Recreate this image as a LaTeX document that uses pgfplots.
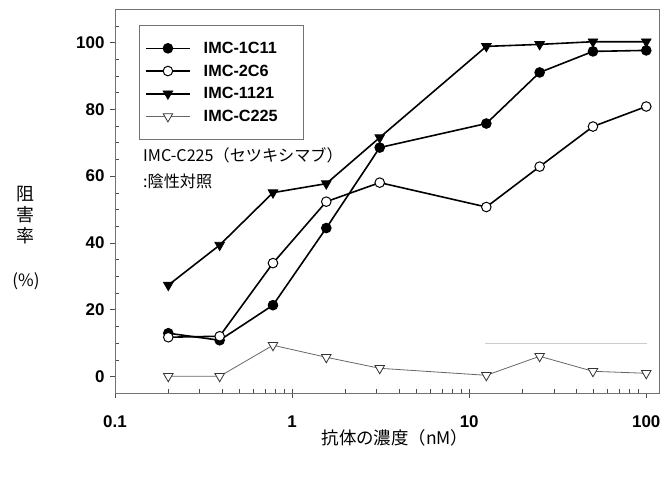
\documentclass[border=0pt]{standalone}
\usepackage{pgfplots}
\pgfplotsset{compat=1.18}
\usepackage{fontspec}
\setmainfont{Liberation Sans}
\newfontfamily\jp{Noto Sans CJK JP}
\begin{document}
\begin{tikzpicture}
\useasboundingbox (-115bp,-84bp) rectangle (548bp,393bp);
\begin{axis}[
  at={(0,0)}, anchor=south west,
  scale only axis, width=544bp, height=384bp,
  xmode=log, xmin=0.1, xmax=118, ymin=-5, ymax=110,
  xtick={0.1,1,10,100}, xticklabels={0.1,1,10,100},
  ytick={0,20,40,60,80,100}, yticklabels={0,20,40,60,80,100},
  minor ytick={5,10,15,25,30,35,45,50,55,65,70,75,85,90,95,105},
  axis line style={black!55}, tick style={black!70},
  tick align=outside, xtick pos=bottom, ytick pos=left,
  major tick length=5bp, minor tick length=-4bp,
  ticklabel style={font=\fontsize{17}{17}\selectfont\bfseries},
  xticklabel style={yshift=-14bp},
  yticklabel style={xshift=-2bp},
  legend cell align=left,
  legend style={at={(0.044,0.958)}, anchor=north west, draw=black!55,
    font=\fontsize{16.3}{16.3}\selectfont\bfseries, row sep=2.7bp,
    inner xsep=6bp, inner ysep=13bp,
    nodes={text height=12bp, text depth=2bp, inner sep=3bp},
    /tikz/every even column/.append style={text width=90bp}},
  legend image code/.code={\path (54bp,0bp); \draw[mark repeat=2,mark phase=2] plot coordinates {(0bp,0bp)(22bp,0bp)(44bp,0bp)};},
]
\addplot[black, line width=1.6bp, mark=*, mark size=4.8bp, mark options={fill=black, line width=1bp}]
coordinates {(0.2,12.9)(0.39,10.8)(0.78,21.3)(1.56,44.4)(3.125,68.5)(12.5,75.7)(25,91)(50,97.3)(100,97.6)};
\addlegendentry{IMC-1C11}
\addplot[black, line width=1.6bp, mark=*, mark size=4.8bp, mark options={fill=white, line width=1bp}]
coordinates {(0.2,11.7)(0.39,12)(0.78,33.9)(1.56,52.3)(3.125,58)(12.5,50.7)(25,62.8)(50,74.8)(100,80.8)};
\addlegendentry{IMC-2C6}
\addplot[black, line width=1.6bp, mark=triangle*, mark size=5.5bp, mark options={fill=black, rotate=180, line width=0.8bp}]
coordinates {(0.2,27.3)(0.39,39.3)(0.78,55)(1.56,57.7)(3.125,71.5)(12.5,98.8)(25,99.4)(50,100.2)(100,100.2)};
\addlegendentry{IMC-1121}
\addplot[black!60, line width=0.8bp, mark=triangle*, mark size=5.5bp, mark options={fill=white, draw=black!80, rotate=180, line width=0.8bp}]
coordinates {(0.2,0)(0.39,0)(0.78,9.3)(1.56,5.7)(3.125,2.4)(12.5,0.3)(25,6)(50,1.5)(100,0.9)};
\addlegendentry{IMC-C225}
\addplot[black!20, line width=0.5bp, forget plot] coordinates {(12.3,9.9)(100.5,9.9)};
\end{axis}
\node[anchor=north west, font=\jp\fontsize{16.2}{27}\selectfont, align=left, inner sep=0] at (28bp,246bp) {IMC-C225（セツキシマブ）\\:陰性対照};
\node[font=\jp\fontsize{18}{21.5}\selectfont, align=center, inner sep=0] at (-90bp,178bp) {阻\\害\\率};
\node[font=\jp\fontsize{17}{17}\selectfont, inner sep=0] at (-89bp,112bp) {(\%)};
\node[font=\jp\fontsize{17.5}{17.5}\selectfont, inner sep=0] at (280bp,-45bp) {抗体の濃度（nM）};
\end{tikzpicture}
\end{document}
